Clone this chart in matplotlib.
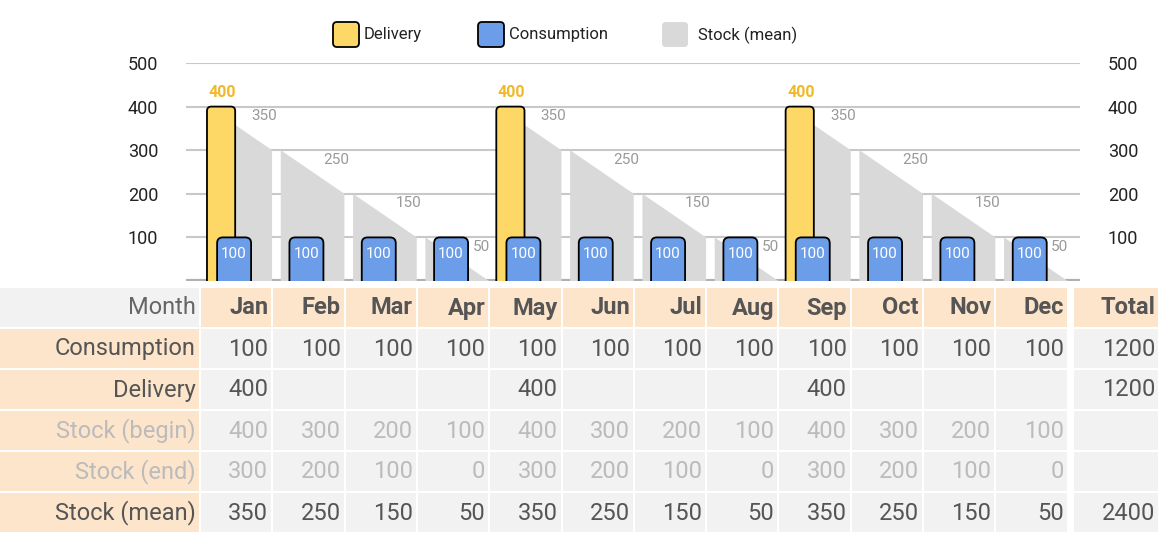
import numpy as np
import matplotlib.pyplot as plt
from matplotlib.patches import FancyBboxPatch, Rectangle, Polygon

plt.rcParams['font.family'] = ['Roboto', 'DejaVu Sans']

months = ['Jan', 'Feb', 'Mar', 'Apr', 'May', 'Jun', 'Jul', 'Aug', 'Sep', 'Oct', 'Nov', 'Dec']
consumption = [100] * 12
delivery = [400, 0, 0, 0, 400, 0, 0, 0, 400, 0, 0, 0]
stock_begin = [400, 300, 200, 100, 400, 300, 200, 100, 400, 300, 200, 100]
stock_end = [300, 200, 100, 0, 300, 200, 100, 0, 300, 200, 100, 0]
stock_mean = [350, 250, 150, 50, 350, 250, 150, 50, 350, 250, 150, 50]

W, H = 1160, 533
fig = plt.figure(figsize=(W / 100, H / 100), dpi=100)

# ---- chart ----
ax = fig.add_axes([186 / W, (H - 281) / H, (1080 - 186) / W, (281 - 63) / H])
ax.set_xlim(-0.7, 11.66)
ax.set_ylim(0, 500)
for s in ax.spines.values():
    s.set_visible(False)
ax.axhline(0, color='#b0b0b0', lw=3, zorder=1)
for v in range(100, 501, 100):
    ax.axhline(v, color='#c8c8c8', lw=1.5, zorder=0)
ax.set_yticks(range(100, 501, 100))
ax.set_xticks([])
ax.tick_params(axis='y', length=0, labelsize=13, pad=20, labelright=True)
for lbl in ax.get_yticklabels():
    lbl.set_color('#222222')

asp = 165
for i in range(12):
    x0, x1 = i - 0.39, i + 0.49
    ax.add_patch(Polygon([(x0, 0), (x0, stock_begin[i]), (x1, stock_end[i]), (x1, 0)],
                         closed=True, fc='#d9d9d9', ec='none', zorder=2))
    ax.text(i + 0.38, stock_mean[i] + 12, str(stock_mean[i]), color='#999999',
            fontsize=11, ha='center', va='bottom', zorder=5)
    if delivery[i]:
        ax.add_patch(FancyBboxPatch((i - 0.41, -30), 0.39, delivery[i] + 30,
                                    boxstyle='round,pad=0,rounding_size=0.06',
                                    mutation_aspect=asp, fc='#fdd866', ec='black', lw=1.3, zorder=3))
        ax.text(i - 0.2, delivery[i] + 15, str(delivery[i]), color='#f0b92a',
                fontsize=11.5, weight='bold', ha='center', va='bottom', zorder=5)
    ax.add_patch(FancyBboxPatch((i - 0.27, -30), 0.47, consumption[i] + 30,
                                boxstyle='round,pad=0,rounding_size=0.08',
                                mutation_aspect=asp, fc='#6b9de8', ec='black', lw=1.3, zorder=4))
    ax.text(i - 0.035, consumption[i] * 0.62, str(consumption[i]), color='white',
            fontsize=11, ha='center', va='center', zorder=5)

# legend
lg = fig.add_axes([0, 0, 1, 1], facecolor='none')
lg.set_xlim(0, W)
lg.set_ylim(H, 0)
lg.axis('off')
for x, fc, ec, name in [(333, '#fdd866', 'black', 'Delivery'), (478, '#6b9de8', 'black', 'Consumption'),
                        (662, '#d9d9d9', 'none', 'Stock (mean)')]:
    lg.add_patch(FancyBboxPatch((x, 22), 26, 25, boxstyle='round,pad=0,rounding_size=4',
                                fc=fc, ec=ec, lw=1.3))
    lg.text(x + 36 if ec == 'none' else x + 31, 35, name, fontsize=12, va='center', color='#222222')

# ---- table ----
rows = ['Consumption', 'Delivery', 'Stock (begin)', 'Stock (end)', 'Stock (mean)']
values = [consumption, delivery, stock_begin, stock_end, stock_mean]
totals = [sum(consumption), sum(delivery), None, None, sum(stock_mean)]
colors = ['#555555', '#555555', '#bbbbbb', '#bbbbbb', '#555555']
peach, grey = '#fde5cc', '#f2f2f2'
cols = [(0, 199)] + [(201 + 72.3 * i, 201 + 72.3 * i + 70.3) for i in range(12)] + [(1074, 1158)]
row_y = [288 + 41 * r for r in range(6)]

def cell(c, r, fc, txt, color, bold=False):
    xa, xb = cols[c]
    y = row_y[r]
    lg.add_patch(Rectangle((xa, y), xb - xa, 39, fc=fc, ec='none'))
    if txt:
        lg.text(xb - 3, y + 20, txt, ha='right', va='center', fontsize=17,
                color=color, weight='bold' if bold else 'normal')

cell(0, 0, grey, 'Month', '#666666')
for i, m in enumerate(months):
    cell(i + 1, 0, peach, m, '#555555', bold=True)
cell(13, 0, peach, 'Total', '#555555', bold=True)
for r, (name, vals) in enumerate(zip(rows, values), start=1):
    col = colors[r - 1]
    cell(0, r, peach, name, col)
    for i, v in enumerate(vals):
        show = '' if (name == 'Delivery' and v == 0) else str(v)
        cell(i + 1, r, grey, show, col)
    t = totals[r - 1]
    cell(13, r, grey, '' if t is None else str(t), col)

fig.savefig('out.png', dpi=100)
